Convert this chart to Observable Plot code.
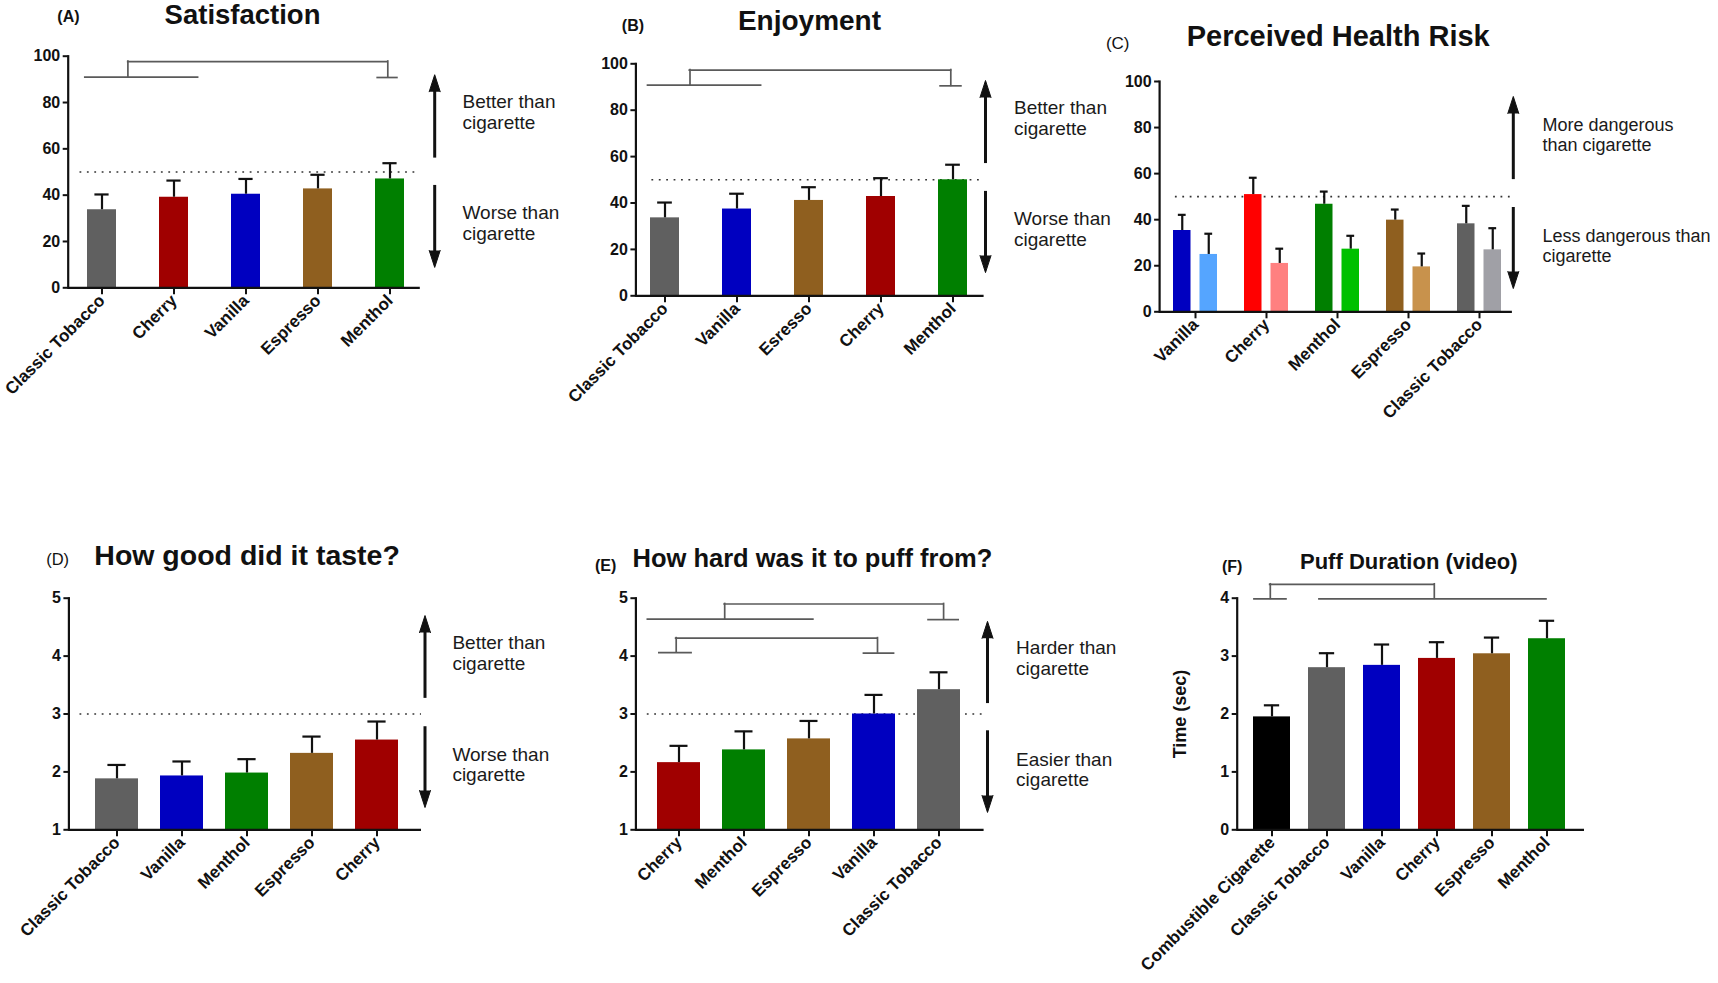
<!DOCTYPE html>
<html><head><meta charset="utf-8">
<script src="https://cdn.jsdelivr.net/npm/d3@7"></script>
<script src="https://cdn.jsdelivr.net/npm/@observablehq/plot@0.6"></script>
<style>
body{margin:0;background:#fff;}
#root{position:relative;width:1718px;height:983px;overflow:hidden;font-family:"Liberation Sans",Arial,Helvetica,sans-serif;color:#111;}
.lab{position:absolute;white-space:nowrap;line-height:1;}
#root svg g[aria-label="y-axis tick label"], #root svg g[aria-label="y-axis tick label"] text{font-size:16px;font-weight:bold;}
#root svg g[aria-label="x-axis tick label"], #root svg g[aria-label="x-axis tick label"] text{font-size:17px;font-weight:bold;}
</style></head><body><div id="root"></div>
<script>
// ---------- DATA ----------
// (A) Satisfaction
const satisfactionFlavors = ["Classic Tobacco", "Cherry", "Vanilla", "Espresso", "Menthol"];
const satisfactionMean = [33.7, 39.1, 40.4, 42.7, 47.0];
const satisfactionSem = [6.6, 7.2, 6.6, 6.1, 6.8];
// (B) Enjoyment
const enjoymentFlavors = ["Classic Tobacco", "Vanilla", "Esresso", "Cherry", "Menthol"];
const enjoymentMean = [33.6, 37.4, 41.1, 42.8, 50.0];
const enjoymentSem = [6.6, 6.6, 5.7, 7.9, 6.5];
// (C) Perceived Health Risk (two bars per flavor)
const riskFlavors = ["Vanilla", "Cherry", "Menthol", "Espresso", "Classic Tobacco"];
const riskMeanDark = [35.3, 50.9, 46.7, 39.8, 38.2];
const riskSemDark = [6.8, 7.3, 5.5, 4.6, 7.8];
const riskMeanLight = [24.9, 21.0, 27.2, 19.5, 26.9];
const riskSemLight = [9.0, 6.4, 5.8, 5.8, 9.4];
// (D) How good did it taste?
const tasteFlavors = ["Classic Tobacco", "Vanilla", "Menthol", "Espresso", "Cherry"];
const tasteMean = [1.88, 1.93, 1.98, 2.32, 2.55];
const tasteSem = [0.24, 0.25, 0.24, 0.29, 0.32];
// (E) How hard was it to puff from?
const puffFlavors = ["Cherry", "Menthol", "Espresso", "Vanilla", "Classic Tobacco"];
const puffMean = [2.16, 2.38, 2.57, 3.00, 3.42];
const puffSem = [0.29, 0.32, 0.31, 0.33, 0.30];
// (F) Puff Duration (video)
const durationProducts = ["Combustible Cigarette", "Classic Tobacco", "Vanilla", "Cherry", "Espresso", "Menthol"];
const durationMean = [1.95, 2.80, 2.84, 2.96, 3.04, 3.30];
const durationSem = [0.20, 0.25, 0.36, 0.28, 0.28, 0.31];

// tick values
const pctTicks = [0, 20, 40, 60, 80, 100];
const likertTicks = [1, 2, 3, 4, 5];
const secTicks = [0, 1, 2, 3, 4];

// colours
const flavorColor = {
  "Classic Tobacco": "#606060", "Cherry": "#a00000", "Vanilla": "#0000c0",
  "Espresso": "#8f5f1f", "Esresso": "#8f5f1f", "Menthol": "#007f00",
  "Combustible Cigarette": "#000000"
};
const riskDarkColor = {"Vanilla": "#0000c0", "Cherry": "#ff0000", "Menthol": "#007f00", "Espresso": "#8f5f1f", "Classic Tobacco": "#606060"};
const riskLightColor = {"Vanilla": "#55a5ff", "Cherry": "#ff8080", "Menthol": "#00c000", "Espresso": "#c8924c", "Classic Tobacco": "#a0a0a6"};

// ---------- DRAWING ----------
const root = document.getElementById("root");
const FONT = '"Liberation Sans", Arial, Helvetica, sans-serif';
const INK = "#111";
const BR = "#5a5a5a";

function label(text, left, baseline, size, weight, extra) {
  const d = document.createElement("div");
  d.className = "lab";
  d.textContent = text;
  d.style.left = left + "px";
  d.style.top = (baseline - 0.8465 * size) + "px";
  d.style.fontSize = size + "px";
  d.style.fontWeight = weight;
  if (extra) d.style.cssText += extra;
  root.appendChild(d);
}

function panel(g) {
  const n = g.cats.length;
  const step = (g.cLast - g.cFirst) / (n - 1);
  const bw = g.bw;
  const pi = 1 - bw / step;
  const [y0, y1] = g.yDomain;
  const unitsPerPx = (y1 - y0) / (g.B - g.T);
  const last = g.cats[n - 1];
  const marks = [];

  if (g.ref != null) marks.push(Plot.ruleY([g.ref], {y: d => d, stroke: "#333", strokeWidth: 1.6, strokeDasharray: "1.8,5.6", insetLeft: g.refInset}));

  for (const s of g.series) {
    const rows = g.cats.map((c, i) => ({cat: c, mean: s.means[i], top: s.means[i] + s.sems[i], color: s.colors[c]}));
    const dx = s.dx || 0;
    marks.push(Plot.barY(rows, {x: "cat", y1: y0, y2: "mean", fill: d => d.color, insetLeft: s.inL || 0, insetRight: s.inR || 0}));
    marks.push(Plot.ruleX(rows, {x: "cat", y1: "mean", y2: "top", dx, stroke: INK, strokeWidth: 2.2}));
    marks.push(Plot.tickY(rows, {x: "cat", y: "top", insetLeft: bw / 2 + dx - g.cap / 2, insetRight: bw / 2 - dx - g.cap / 2, stroke: INK, strokeWidth: 2.2}));
  }

  const hseg = (y, c1, o1, c2, o2) => Plot.ruleY([y], {y: d => d, x1: () => c1, x2: () => c2, insetLeft: o1 + bw / 2, insetRight: bw / 2 - o2, stroke: BR, strokeWidth: 1.7, strokeLinecap: "square"});
  const vseg = (c, o, ya, yb) => Plot.ruleX([c], {x: d => d, y1: ya, y2: yb, dx: o, stroke: BR, strokeWidth: 1.7, strokeLinecap: "square"});
  if (g.brackets) marks.push(...g.brackets(hseg, vseg));

  if (g.arrows) {
    for (const a of g.arrows) {
      const dir = a.to > a.from ? 1 : -1;
      marks.push(Plot.ruleX([last], {x: d => d, y1: a.from, y2: a.to - dir * 10 * unitsPerPx, dx: g.arrowDx, stroke: INK, strokeWidth: 3}));
      marks.push(Plot.vector([last], {x: d => d, y: a.to, dx: g.arrowDx, length: 17, r: 5.5, rotate: dir > 0 ? 0 : 180, shape: "spike", anchor: "end", fill: INK, stroke: INK, strokeWidth: 1}));
    }
  }
  if (g.notes) {
    for (const t of g.notes) {
      marks.push(Plot.text([t.text], {x: () => last, y: t.y, text: d => d, dx: g.noteDx, textAnchor: "start", fontSize: g.noteSize || 19, fontWeight: "normal", lineHeight: 1.1, fill: "#1a1a1a"}));
    }
  }

  marks.push(Plot.frame({anchor: "left", stroke: INK, strokeWidth: 2.2}));
  marks.push(Plot.ruleY([y0], {y: d => d, stroke: INK, strokeWidth: 2.2}));
  marks.push(Plot.axisY({ticks: g.yTicks, tickFormat: d => String(d), tickSize: 5, tickPadding: 3, strokeWidth: 2, color: INK, label: null}));
  marks.push(Plot.axisX({tickSize: 7, tickPadding: 3, tickRotate: -45, strokeWidth: 2, color: INK, label: null}));

  const svg = Plot.plot({
    width: g.sw, height: g.sh,
    marginLeft: g.L - g.sx, marginRight: g.sx + g.sw - g.R,
    marginTop: g.T - g.sy, marginBottom: g.sy + g.sh - g.B,
    style: `background:none;overflow:visible;font-family:${FONT};font-size:15px;font-weight:bold;color:${INK};`,
    x: {domain: g.cats, range: [g.cFirst - step / 2 - g.sx, g.cLast + step / 2 - g.sx], paddingInner: pi, paddingOuter: pi / 2, align: 0.5, label: null},
    y: {domain: g.yDomain, label: null},
    marks
  });
  svg.style.position = "absolute";
  svg.style.left = g.sx + "px";
  svg.style.top = g.sy + "px";
  svg.style.maxWidth = "none";
  svg.style.background = "none";
  svg.style.overflow = "visible";
  root.appendChild(svg);
}

// (A)
panel({
  cats: satisfactionFlavors,
  series: [{means: satisfactionMean, sems: satisfactionSem, colors: flavorColor}],
  sx: 0, sy: 0, sw: 590, sh: 420, L: 67.7, R: 419.8, T: 55.7, B: 287.3,
  cFirst: 100.6, cLast: 389.9, bw: 29.6, cap: 14.8,
  yDomain: [0, 100], yTicks: pctTicks, ref: 50, refInset: 11.8,
  arrows: [{from: 56, to: 92}, {from: 44.2, to: 8.8}], arrowDx: 44.7,
  notes: [{text: "Better than\ncigarette", y: 76}, {text: "Worse than\ncigarette", y: 28}], noteDx: 72.5,
  brackets: (h, v) => [
    h(91.0, "Classic Tobacco", -17, "Cherry", 24.4),
    v("Classic Tobacco", 25.9, 91.0, 97.7),
    h(97.7, "Classic Tobacco", 25.9, "Menthol", -2.2),
    v("Menthol", -2.2, 90.8, 97.7),
    h(90.8, "Menthol", -12.6, "Menthol", 7.7)
  ]
});

// (B)
panel({
  cats: enjoymentFlavors,
  series: [{means: enjoymentMean, sems: enjoymentSem, colors: flavorColor}],
  sx: 570, sy: 0, sw: 560, sh: 420, L: 635.4, R: 983.6, T: 63.3, B: 295.3,
  cFirst: 663.9, cLast: 952.9, bw: 28.6, cap: 14.3,
  yDomain: [0, 100], yTicks: pctTicks, ref: 50, refInset: 16,
  arrows: [{from: 57.0, to: 92.8}, {from: 45.0, to: 10.0}], arrowDx: 32.5,
  notes: [{text: "Better than\ncigarette", y: 76.8}, {text: "Worse than\ncigarette", y: 29.0}], noteDx: 61,
  brackets: (h, v) => [
    h(90.8, "Classic Tobacco", -16.8, "Vanilla", 23.9),
    v("Classic Tobacco", 25, 90.8, 97.3),
    h(97.3, "Classic Tobacco", 25, "Menthol", -2.2),
    v("Menthol", -2.2, 90.5, 97.3),
    h(90.5, "Menthol", -12.2, "Menthol", 8.2)
  ]
});

// (C)
panel({
  cats: riskFlavors,
  series: [
    {means: riskMeanDark, sems: riskSemDark, colors: riskDarkColor, inL: 0, inR: 26.5, dx: -13.25},
    {means: riskMeanLight, sems: riskSemLight, colors: riskLightColor, inL: 26.5, inR: 0, dx: 13.25}
  ],
  sx: 1100, sy: 0, sw: 618, sh: 440, L: 1159.1, R: 1511.9, T: 81, B: 311.3,
  cFirst: 1194.6, cLast: 1479.2, bw: 44.2, cap: 8,
  yDomain: [0, 100], yTicks: pctTicks, ref: 50, refInset: 15.8,
  arrows: [{from: 57.4, to: 93.5}, {from: 45.3, to: 10.1}], arrowDx: 33.8,
  notes: [{text: "More dangerous\nthan cigarette", y: 76.9}, {text: "Less dangerous than\ncigarette", y: 28.8}], noteDx: 63, noteSize: 18
});

// (D)
panel({
  cats: tasteFlavors,
  series: [{means: tasteMean, sems: tasteSem, colors: flavorColor}],
  sx: 0, sy: 530, sw: 590, sh: 453, L: 68.4, R: 421, T: 597.7, B: 829.3,
  cFirst: 115.8, cLast: 376.6, bw: 43.3, cap: 18.5,
  yDomain: [1, 5], yTicks: likertTicks, ref: 3, refInset: 11.1,
  arrows: [{from: 3.27, to: 4.70}, {from: 2.78, to: 1.385}], arrowDx: 48,
  notes: [{text: "Better than\ncigarette", y: 4.05}, {text: "Worse than\ncigarette", y: 2.13}], noteDx: 75.4
});

// (E)
panel({
  cats: puffFlavors,
  series: [{means: puffMean, sems: puffSem, colors: flavorColor}],
  sx: 570, sy: 530, sw: 560, sh: 453, L: 635.4, R: 983.6, T: 597.7, B: 829.3,
  cFirst: 678.2, cLast: 938.6, bw: 42.9, cap: 17.9,
  yDomain: [1, 5], yTicks: likertTicks, ref: 3, refInset: 11.4,
  arrows: [{from: 3.18, to: 4.60}, {from: 2.71, to: 1.30}], arrowDx: 48.5,
  notes: [{text: "Harder than\ncigarette", y: 3.97}, {text: "Easier than\ncigarette", y: 2.045}], noteDx: 77.1,
  brackets: (h, v) => [
    h(4.64, "Cherry", -31.1, "Espresso", 4.3),
    v("Menthol", -19.3, 4.64, 4.90),
    h(4.90, "Menthol", -19.3, "Classic Tobacco", 4.6),
    v("Classic Tobacco", 4.6, 4.63, 4.90),
    h(4.63, "Classic Tobacco", -10.4, "Classic Tobacco", 19.6),
    h(4.06, "Cherry", -19.6, "Cherry", 12.5),
    v("Cherry", -2.8, 4.06, 4.31),
    h(4.31, "Cherry", -2.8, "Vanilla", 3.5),
    v("Vanilla", 3.5, 4.05, 4.31),
    h(4.05, "Vanilla", -10, "Vanilla", 20)
  ]
});

// (F)
panel({
  cats: durationProducts,
  series: [{means: durationMean, sems: durationSem, colors: flavorColor}],
  sx: 1120, sy: 530, sw: 598, sh: 453, L: 1236.7, R: 1584, T: 597.7, B: 829.3,
  cFirst: 1271.7, cLast: 1546.7, bw: 36.7, cap: 15,
  yDomain: [0, 4], yTicks: secTicks, ref: null,
  brackets: (h, v) => [
    h(3.99, "Combustible Cigarette", -17.4, "Combustible Cigarette", 14.3),
    v("Combustible Cigarette", -1.7, 3.99, 4.24),
    h(4.24, "Combustible Cigarette", -1.7, "Cherry", -2.7),
    v("Cherry", -2.7, 3.99, 4.24),
    h(3.99, "Classic Tobacco", -7.4, "Menthol", -0.7)
  ]
});

// titles and panel letters
label("(A)", 57.3, 22.7, 16, "bold");
label("Satisfaction", 164.6, 24.5, 27.5, "bold");
label("(B)", 621.8, 32, 16, "bold");
label("Enjoyment", 737.9, 30.7, 28, "bold");
label("(C)", 1105.9, 49.3, 17, "normal");
label("Perceived Health Risk", 1186.7, 46.7, 29, "bold");
label("(D)", 46.2, 565, 16.5, "normal");
label("How good did it taste?", 94.3, 565, 28.5, "bold");
label("(E)", 595, 572, 16, "bold");
label("How hard was it to puff from?", 632.5, 567.3, 25.5, "bold");
label("(F)", 1222, 573, 16, "bold");
label("Puff Duration (video)", 1300, 569.3, 22, "bold");
const yl = document.createElement("div");
yl.className = "lab";
yl.textContent = "Time (sec)";
yl.style.cssText += "left:1180px;top:714px;font-size:18px;font-weight:bold;transform:translate(-50%,-50%) rotate(-90deg);";
root.appendChild(yl);
</script>
</body></html>
